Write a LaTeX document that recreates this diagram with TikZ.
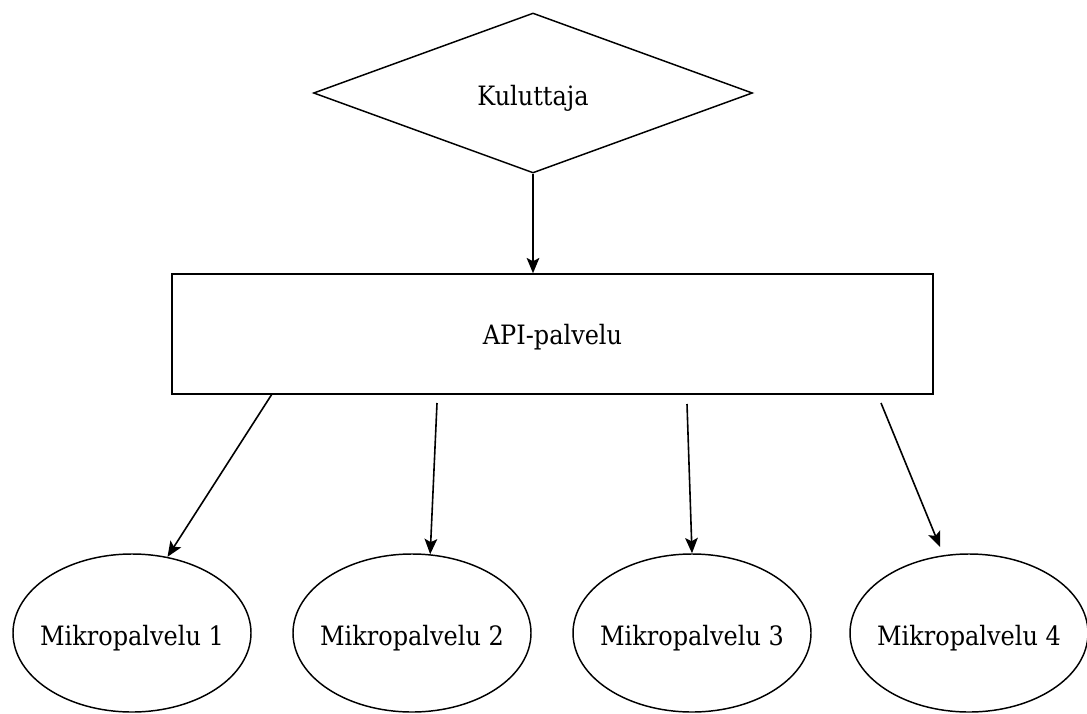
\documentclass[tikz,border=0pt]{standalone}
\usepackage{fontspec}
\setmainfont{DejaVu Serif Condensed}
\usetikzlibrary{shapes.geometric,arrows.meta}
\newcommand{\lowtxt}[2]{\raisebox{-#1}[0pt][0pt]{#2}}
\begin{document}
\begin{tikzpicture}[x=0.75pt,y=-0.75pt,
  lbl/.style={font=\fontsize{20}{24}\selectfont, line width=1.1pt, draw, inner sep=0pt},
  diam/.style={lbl, diamond, aspect=2.74, minimum width=329.25pt, minimum height=120pt},
  box/.style={lbl, rectangle, minimum width=570.75pt, minimum height=90pt},
  ell/.style={lbl, ellipse, minimum width=178.5pt, minimum height=118.5pt},
  arr/.style={line width=1.2pt, -{Stealth[length=11.5pt,width=9.5pt,inset=2.5pt]}}]
\useasboundingbox (0,0) rectangle (1087,713);
\node[diam] (K) at (533,93) {\lowtxt{9.2pt}{Kuluttaja}};
\node[box] (A) at (552.5,334) {\lowtxt{8pt}{API-palvelu}};
\node[ell] (M1) at (132,633) {\makebox[0pt]{\lowtxt{9.5pt}{Mikropalvelu 1}}};
\node[ell] (M2) at (412,633) {\makebox[0pt]{\lowtxt{9.5pt}{Mikropalvelu 2}}};
\node[ell] (M3) at (692,633) {\makebox[0pt]{\lowtxt{9.5pt}{Mikropalvelu 3}}};
\node[ell] (M4) at (969,633) {\makebox[0pt]{\lowtxt{9.5pt}{Mikropalvelu 4}}};
\coordinate (s1) at (272,394);
\coordinate (s2) at (437,403);
\coordinate (s3) at (687,404);
\coordinate (s4) at (881,403);
\coordinate (e4) at (940,547);
\draw[arr] (K.south) -- (K.south |- A.north);
\draw[arr] (s1) -- (M1.65);
\draw[arr] (s2) -- (M2.77);
\draw[arr] (s3) -- (M3.north);
\draw[arr] (s4) -- (e4);
\end{tikzpicture}
\end{document}
